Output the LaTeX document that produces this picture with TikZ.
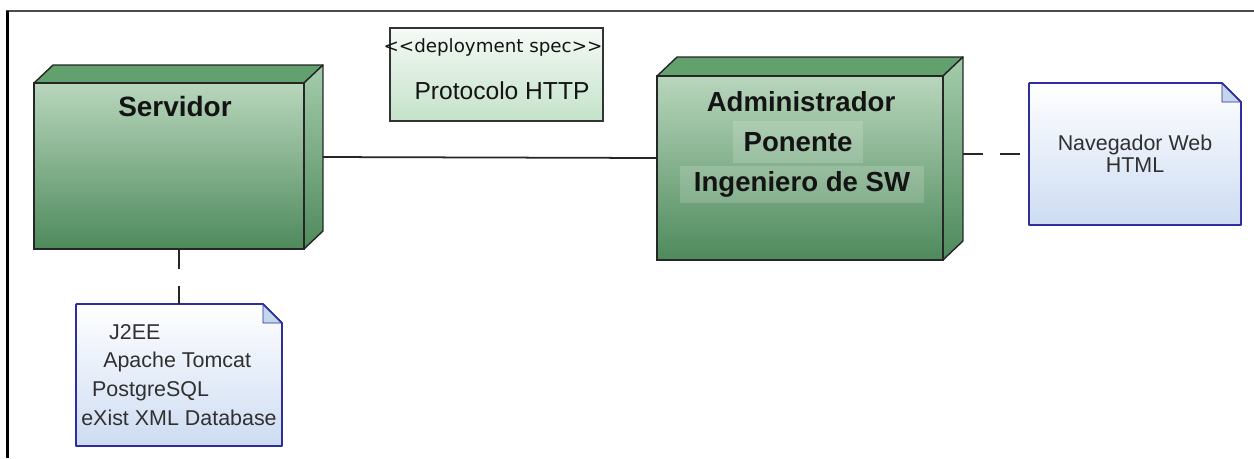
\documentclass[tikz,border=0pt]{standalone}
\usepackage{fontspec}
\setmainfont{Liberation Sans}
\newfontfamily\stfont{DejaVu Sans}
\usetikzlibrary{calc}
\definecolor{gLight}{HTML}{B8D6BC}
\definecolor{gDark}{HTML}{4E8A5C}
\definecolor{gTop}{HTML}{62A06E}
\definecolor{gSide}{HTML}{A4CCAB}
\definecolor{noteBlue}{HTML}{CDDCF2}
\definecolor{noteEdge}{HTML}{2E2E9E}
\definecolor{foldBlue}{HTML}{C4D6EE}
\definecolor{specTop}{HTML}{F5FAF6}
\definecolor{specGreen}{HTML}{C4E2C9}
\definecolor{txt}{HTML}{141414}
\definecolor{notetxt}{HTML}{303030}
\pgfdeclarelayer{bg}
\pgfsetlayers{bg,main}
\newcommand\cubefaces[3]{% name, dx, dy (dy negative = up)
  \begin{pgfonlayer}{bg}
  \filldraw[fill=gTop, draw=black!85, line width=0.8pt, line join=round]
    (#1.north west) -- ++(#2,#3) -- ($(#1.north east)+(#2,#3)$) -- (#1.north east) -- cycle;
  \shadedraw[top color=gSide, bottom color=gDark, draw=black!85, line width=0.8pt, line join=round]
    (#1.north east) -- ++(#2,#3) -- ($(#1.south east)+(#2,#3)$) -- (#1.south east) -- cycle;
  \end{pgfonlayer}}
\newcommand\notepaper[1]{%
  \begin{pgfonlayer}{bg}
  \shadedraw[top color=white, bottom color=noteBlue, draw=noteEdge, line width=0.9pt, line join=round]
    (#1.north west) -- ($(#1.north east)+(-19,0)$) -- ($(#1.north east)+(0,19)$)
    -- (#1.south east) -- (#1.south west) -- cycle;
  \filldraw[fill=foldBlue, draw=noteEdge, line width=0.5pt, line join=round]
    ($(#1.north east)+(-19,0)$) -- ($(#1.north east)+(-19,19)$) -- ($(#1.north east)+(0,19)$) -- cycle;
  \draw[draw=noteEdge, line width=0.9pt] ($(#1.north east)+(-19,0)$) -- ($(#1.north east)+(0,19)$);
  \end{pgfonlayer}}
\begin{document}
\begin{tikzpicture}[x=0.02cm,y=-0.02cm,
  front/.style={rectangle, inner sep=0pt, outer sep=0pt, draw=black!85, line width=0.8pt,
    top color=gLight, bottom color=gDark},
  specbox/.style={rectangle, inner sep=0pt, outer sep=0pt, draw=black!80, line width=0.8pt,
    top color=specTop, bottom color=specGreen},
  notebox/.style={rectangle, inner sep=0pt, outer sep=0pt, text=notetxt,
    font=\fontsize{12.2}{12.5}\selectfont},
  title/.style={inner sep=0pt, text=txt, font=\fontsize{15.7}{18}\selectfont\bfseries},
  hilite/.style={title, fill=white, fill opacity=0.16, text opacity=1},
  conn/.style={line width=1pt, draw=black!85},
  dep/.style={conn, dash pattern=on 0.4cm off 0.35cm}
]
\useasboundingbox (0,0) rectangle (1254,458);
% frame
\draw[line width=1.1pt, black!70] (6,11) -- (1254,11);
\draw[line width=1.7pt, black] (7.5,10.5) -- (7.5,458);

% Servidor
\node[front, minimum width=5.4cm, minimum height=3.32cm] (srv) at (169,166) {};
\cubefaces{srv}{19}{-18}
\node[title, font=\fontsize{15.9}{18}\selectfont\bfseries] (srvlbl) at (175,107) {Servidor};
\coordinate (srvR) at ([xshift=0.38cm]srv.east);

% Administrador
\node[front, minimum width=5.72cm, minimum height=3.68cm] (adm) at (800,168) {};
\cubefaces{adm}{20}{-19}
\node[title] (admlbl) at (801,102) {Administrador};
\node[hilite, minimum width=2.6cm, minimum height=0.84cm] (pon) at (798,142) {Ponente};
\node[hilite, minimum width=4.9cm, minimum height=0.74cm] (ing) at (802,184.5) {Ingeniero de SW};
\coordinate (admR) at ([xshift=0.4cm]adm.east);

% deployment spec
\node[specbox, minimum width=4.26cm, minimum height=1.86cm] (spec) at (496.5,74.5) {};
\node[inner sep=0pt, text=txt, font=\stfont\fontsize{10.4}{12}\selectfont] (st) at (493,47) {<<deployment spec>>};
\node[inner sep=0pt, text=txt, font=\fontsize{14}{16}\selectfont] (proto) at (502,91) {Protocolo HTTP};

% Navegador note
\node[notebox, minimum width=4.24cm, minimum height=2.84cm, align=center] (nav) at (1135,154)
  {Navegador Web\\HTML};
\notepaper{nav}

% J2EE note
\node[notebox, minimum width=4.12cm, minimum height=2.84cm, align=left,
  font=\fontsize{12.2}{16.4}\selectfont] (tech) at (179,375)
  {\hspace*{15.9pt}J2EE\\\hspace*{12.5pt}Apache Tomcat\\\hspace*{6.2pt}PostgreSQL\\eXist XML Database};
\notepaper{tech}

% connectors
\draw[conn] ([yshift=0.18cm]srvR) -- ([yshift=0.2cm]adm.west);
\draw[dep] (nav.west -| admR) -- (nav.west);
\draw[dep] (tech.north |- srv.south) -- (tech.north);
\end{tikzpicture}
\end{document}
